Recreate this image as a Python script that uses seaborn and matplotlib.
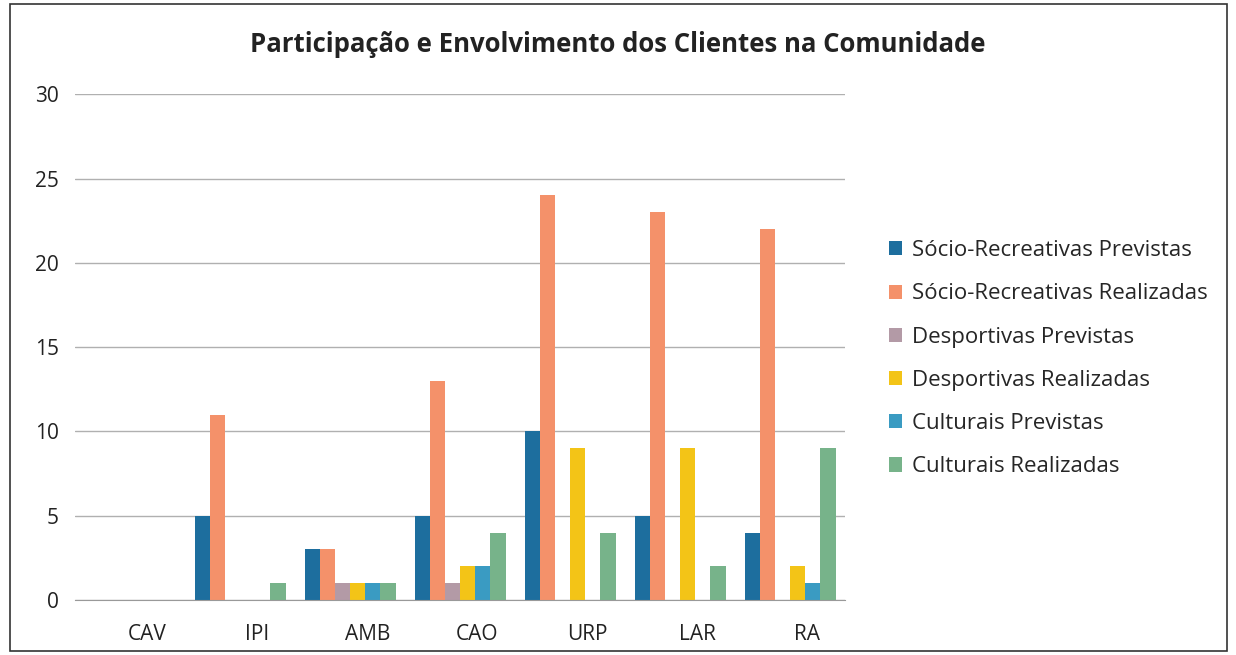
import matplotlib
matplotlib.use('Agg')
import matplotlib.pyplot as plt
import matplotlib.transforms as mtransforms
import pandas as pd
import seaborn as sns

# Data
categories = ['CAV', 'IPI', 'AMB', 'CAO', 'URP', 'LAR', 'RA']
series_names = ['Sócio-Recreativas Previstas', 'Sócio-Recreativas Realizadas',
                'Desportivas Previstas', 'Desportivas Realizadas',
                'Culturais Previstas', 'Culturais Realizadas']
socio_previstas = [0, 5, 3, 5, 10, 5, 4]
socio_realizadas = [0, 11, 3, 13, 24, 23, 22]
desp_previstas = [0, 0, 1, 1, 0, 0, 0]
desp_realizadas = [0, 0, 1, 2, 9, 9, 2]
cult_previstas = [0, 0, 1, 2, 0, 0, 1]
cult_realizadas = [0, 1, 1, 4, 4, 2, 9]
colors = ['#1d6e9e', '#f4916a', '#b39aa6', '#f3c417', '#3a9bc2', '#77b38a']


def build_frame():
    values = [socio_previstas, socio_realizadas, desp_previstas,
              desp_realizadas, cult_previstas, cult_realizadas]
    rows = []
    for name, vals in zip(series_names, values):
        for cat, v in zip(categories, vals):
            rows.append({'categoria': cat, 'serie': name, 'valor': v})
    return pd.DataFrame(rows)


def main():
    sns.set_style('white')
    plt.rcParams['font.family'] = ['Open Sans', 'DejaVu Sans']

    df = build_frame()
    fig = plt.figure(figsize=(12.36, 6.55), dpi=100)
    ax = fig.add_axes([0.061, 0.084, 0.623, 0.772])

    sns.barplot(data=df, x='categoria', y='valor', hue='serie',
                order=categories, hue_order=series_names, palette=colors,
                width=0.82, ax=ax, saturation=1, linewidth=0)

    ax.set_ylim(0, 30)
    ax.set_yticks(range(0, 31, 5))
    ax.yaxis.grid(True, color='#b0b0b0', linewidth=1)
    ax.set_axisbelow(True)
    ax.set_xlabel('')
    ax.set_ylabel('')
    for side in ['top', 'right', 'left']:
        ax.spines[side].set_visible(False)
    ax.spines['bottom'].set_color('#999999')
    ax.tick_params(axis='y', labelsize=15, colors='#222222', length=0, pad=12)
    ax.tick_params(axis='x', labelsize=15, colors='#222222', length=0, pad=17)

    # category labels sit a little right of the bar groups, as in the original
    shift = mtransforms.ScaledTranslation(0.17, 0, fig.dpi_scale_trans)
    for lbl in ax.get_xticklabels():
        lbl.set_transform(lbl.get_transform() + shift)

    fig.suptitle('Participação e Envolvimento dos Clientes na Comunidade',
                 x=0.5, y=0.952, fontsize=18.5, fontweight='bold', color='#222222')

    ax.legend(loc='center left', bbox_to_anchor=(1.03, 0.477), frameon=False,
              fontsize=16, handlelength=0.6, handleheight=0.6,
              handletextpad=0.45, labelspacing=1.0)

    # outer frame
    fig.patches.append(plt.Rectangle((0.008, 0.006), 0.985, 0.988, transform=fig.transFigure,
                                     fill=False, edgecolor='#333333', linewidth=1.2))

    fig.savefig('out.png', dpi=100)


if __name__ == '__main__':
    main()
